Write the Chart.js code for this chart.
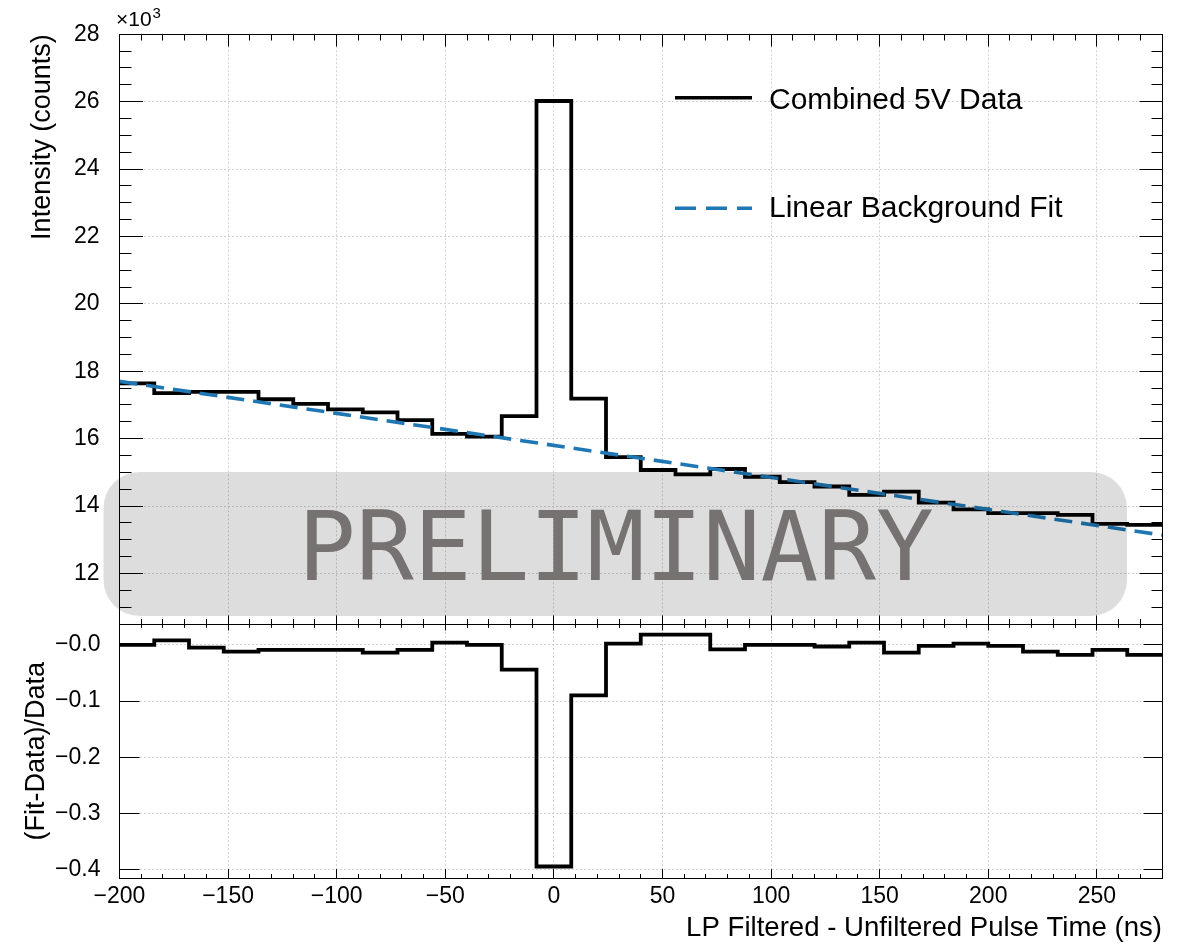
<!DOCTYPE html>
<html>
<head>
<meta charset="utf-8">
<script src="https://cdn.jsdelivr.net/npm/chart.js@4.4.1/dist/chart.umd.min.js"></script>
<style>
html,body{margin:0;padding:0;background:#fff;}
#wrap{position:relative;width:1184px;height:946px;background:#fff;overflow:hidden;}
canvas{position:absolute;left:0;}
#top{top:0;}
#bot{top:624px;}
</style>
</head>
<body>
<div id="wrap">
<canvas id="top" width="1184" height="625"></canvas>
<canvas id="bot" width="1184" height="322"></canvas>
</div>
<script>
// ---------------- DATA ----------------
const binEdges = [-200,-184,-168,-152,-136,-120,-104,-88,-72,-56,-40,-24,-8,8,24,40,56,72,88,104,120,136,152,168,184,200,216,232,248,264,280];
// Intensity in units of 10^3 counts (one value per bin)
const intensityK = [17.64,17.35,17.39,17.39,17.17,17.03,16.87,16.78,16.55,16.14,16.06,16.67,26.02,17.19,15.45,15.07,14.94,15.10,14.87,14.71,14.58,14.33,14.43,14.10,13.90,13.79,13.79,13.74,13.47,13.44];
// (Fit-Data)/Data per bin
const ratio = [0.000,0.008,-0.005,-0.012,-0.009,-0.009,-0.009,-0.014,-0.009,0.004,0.000,-0.044,-0.394,-0.090,0.002,0.018,0.018,-0.008,0.000,0.000,-0.003,0.004,-0.014,-0.002,0.002,-0.002,-0.012,-0.018,-0.009,-0.018];
// Linear background fit end points
const fitX = [-200, 280];
const fitK = [17.70, 13.14];
// Tick labels
const xTickValues = [-200,-150,-100,-50,0,50,100,150,200,250];
const xTickLabels = ['\u2212200','\u2212150','\u2212100','\u221250','0','50','100','150','200','250'];
const yTopTickValues = [12,14,16,18,20,22,24,26,28];
const yTopTickLabels = ['12','14','16','18','20','22','24','26','28'];
const yBotTickValues = [0,-0.1,-0.2,-0.3,-0.4];
const yBotTickLabels = ['\u22120.0','\u22120.1','\u22120.2','\u22120.3','\u22120.4'];
const seriesNames = ['Combined 5V Data','Linear Background Fit'];
const axisTitles = {yTop:'Intensity (counts)', yBot:'(Fit-Data)/Data', x:'LP Filtered - Unfiltered Pulse Time (ns)'};

// ---------------- STYLE ----------------
const FONT = "'Liberation Sans', Arial, Helvetica, sans-serif";
Chart.defaults.font.family = FONT;
Chart.defaults.color = '#000';
const DATA_COLOR = '#000000';
const FIT_COLOR = '#1f77b4';
const GRID = {color:'#d2d2d2', lineWidth:1, drawTicks:false};
const BORDER = {display:false, dash:[2,2]};

function stepPoints(edges, vals){
  const pts = vals.map((v,i)=>({x:edges[i], y:v}));
  pts.push({x:edges[edges.length-1], y:vals[vals.length-1]});
  return pts;
}
function setTicks(values){ return s => { s.ticks = values.map(v=>({value:v})); }; }

function drawFrameTicks(chart, spec){
  const {ctx, chartArea:a, scales} = chart;
  const L = Math.floor(a.left)+0.5, R = Math.floor(a.right)+0.5, T = Math.floor(a.top)+0.5, B = Math.floor(a.bottom)+0.5;
  ctx.save();
  ctx.strokeStyle = '#000'; ctx.lineWidth = 1; ctx.setLineDash([]);
  ctx.beginPath();
  const xs = scales.x, ys = scales.y;
  const nx = Math.round((spec.xMax-spec.xMin)/spec.xMinor);
  for (let i=1;i<nx;i++){
    const v = spec.xMin + i*spec.xMinor;
    const major = (Math.round(v) % spec.xMajor) === 0;
    const px = Math.floor(xs.getPixelForValue(v))+0.5;
    if (spec.xB){ const l = major?spec.xB[0]:spec.xB[1]; ctx.moveTo(px,B); ctx.lineTo(px,B-l); }
    if (spec.xT){ const l = major?spec.xT[0]:spec.xT[1]; ctx.moveTo(px,T); ctx.lineTo(px,T+l); }
  }
  const ny = Math.round((spec.yMax-spec.yMin)/spec.yMinor);
  for (let i=0;i<=ny;i++){
    const v = spec.yMin + i*spec.yMinor;
    const major = spec.yMajors.some(m=>Math.abs(m-v)<1e-6);
    if (!major && !spec.yMinorOn) continue;
    const py = Math.floor(ys.getPixelForValue(v))+0.5;
    if (py < T+0.1 || py > B-0.1) continue;
    const ll = major?spec.yL[0]:spec.yL[1];
    const lr = major?spec.yR[0]:spec.yR[1];
    ctx.moveTo(L,py); ctx.lineTo(L+ll,py);
    ctx.moveTo(R,py); ctx.lineTo(R-lr,py);
  }
  ctx.stroke();
  ctx.strokeRect(L, T, R-L, B-T);
  ctx.restore();
}

const topPlugin = {
  id:'topDecor',
  afterDatasetsDraw(chart){
    drawFrameTicks(chart, {xMin:-200,xMax:280,xMinor:10,xMajor:50,xB:[9,5.5],xT:[12,6],
      yMin:10.5,yMax:28,yMinor:0.5,yMajors:yTopTickValues,yMinorOn:true,yL:[23.5,12],yR:[23,11]});
  },
  afterDraw(chart){
    const ctx = chart.ctx;
    ctx.save();
    // PRELIMINARY watermark
    ctx.fillStyle = 'rgba(0,0,0,0.135)';
    ctx.beginPath();
    ctx.roundRect(103.5, 472, 1023.5, 144, 36);
    ctx.fill();
    ctx.fillStyle = '#767271';
    ctx.font = "96px 'DejaVu Sans Mono', monospace";
    ctx.textAlign = 'center'; ctx.textBaseline = 'alphabetic';
    ctx.fillText('PRELIMINARY', 616, 580);
    // legend
    const ds = chart.data.datasets;
    ctx.lineWidth = 3.6; ctx.lineCap = 'butt';
    ctx.strokeStyle = ds[1].borderColor; ctx.setLineDash([]);
    ctx.beginPath(); ctx.moveTo(675, 97.7); ctx.lineTo(752, 97.7); ctx.stroke();
    ctx.strokeStyle = ds[0].borderColor; ctx.setLineDash([21,10]);
    ctx.beginPath(); ctx.moveTo(675, 208.3); ctx.lineTo(752, 208.3); ctx.stroke();
    ctx.setLineDash([]);
    ctx.fillStyle = '#000'; ctx.textAlign = 'left';
    ctx.font = "30px " + FONT;
    ctx.fillText(ds[1].label, 769, 109.3);
    ctx.fillText(ds[0].label, 769, 216.7);
    // x10^3 multiplier
    ctx.font = "21px " + FONT;
    ctx.fillText('\u00d710', 116, 26);
    ctx.font = "15px " + FONT;
    ctx.fillText('3', 152.5, 17.5);
    ctx.restore();
  }
};

const botPlugin = {
  id:'botDecor',
  afterDatasetsDraw(chart){
    drawFrameTicks(chart, {xMin:-200,xMax:280,xMinor:10,xMajor:50,xB:[9.3,4.5],xT:[6,3.3],
      yMin:-0.4,yMax:0,yMinor:0.1,yMajors:yBotTickValues,yMinorOn:false,yL:[20,10],yR:[19,10]});
  }
};

const common = {animation:false, responsive:false, devicePixelRatio:1, events:[]};

new Chart(document.getElementById('top'), {
  type:'line',
  data:{datasets:[
    {label:seriesNames[1], data:fitX.map((x,i)=>({x:x, y:fitK[i]})), borderColor:FIT_COLOR, borderWidth:3.6,
     borderDash:[18,9], pointRadius:0, tension:0, fill:false, order:0},
    {label:seriesNames[0], data:stepPoints(binEdges, intensityK), stepped:true, borderColor:DATA_COLOR, borderWidth:3.8,
     pointRadius:0, fill:false, order:1}
  ]},
  options:Object.assign({}, common, {
    layout:{padding:{top:34.3, right:22, bottom:1, left:0}},
    plugins:{legend:{display:false}, tooltip:{enabled:false}},
    scales:{
      x:{type:'linear', min:-200, max:280, grid:GRID, border:BORDER,
         ticks:{display:false}, afterBuildTicks:setTicks(xTickValues),
         afterFit(s){ s.height = 0; s.paddingLeft = 0; s.paddingRight = 0; }},
      y:{type:'linear', min:10.5, max:28, grid:GRID, border:BORDER,
         afterBuildTicks:setTicks(yTopTickValues),
         ticks:{font:{size:23}, color:'#000', padding:20, callback:v=>yTopTickLabels[yTopTickValues.indexOf(v)]},
         title:{display:true, text:axisTitles.yTop, align:'end', font:{size:27}, color:'#000', padding:{top:26,bottom:0}},
         afterFit(s){ s.width = 119.5; s.paddingTop = 0; s.paddingBottom = 0; }}
    }
  }),
  plugins:[topPlugin]
});

new Chart(document.getElementById('bot'), {
  type:'line',
  data:{datasets:[
    {label:'ratio', data:stepPoints(binEdges, ratio), stepped:true, borderColor:DATA_COLOR, borderWidth:3.8, pointRadius:0, fill:false}
  ]},
  options:Object.assign({}, common, {
    layout:{padding:{top:0, right:22, bottom:0, left:0}},
    plugins:{legend:{display:false}, tooltip:{enabled:false}},
    scales:{
      x:{type:'linear', min:-200, max:280, grid:GRID, border:BORDER,
         afterBuildTicks:setTicks(xTickValues),
         ticks:{font:{size:23}, color:'#000', padding:5, maxRotation:0, autoSkip:false,
                callback:v=>xTickLabels[xTickValues.indexOf(v)]},
         title:{display:true, text:axisTitles.x, align:'end', font:{size:27.6}, color:'#000', padding:{top:0,bottom:1}},
         afterFit(s){ s.height = 67.7; s.paddingLeft = 0; s.paddingRight = 0; }},
      y:{type:'linear', min:-0.415, max:0.037, grid:GRID, border:BORDER,
         afterBuildTicks:setTicks(yBotTickValues),
         ticks:{font:{size:23}, color:'#000', padding:19, callback:v=>yBotTickLabels[yBotTickValues.indexOf(v)]},
         title:{display:true, text:axisTitles.yBot, align:'center', font:{size:27}, color:'#000', padding:{top:20,bottom:0}},
         afterFit(s){ s.width = 119.5; s.paddingTop = 0; s.paddingBottom = 0; }}
    }
  }),
  plugins:[botPlugin]
});
</script>
</body>
</html>
